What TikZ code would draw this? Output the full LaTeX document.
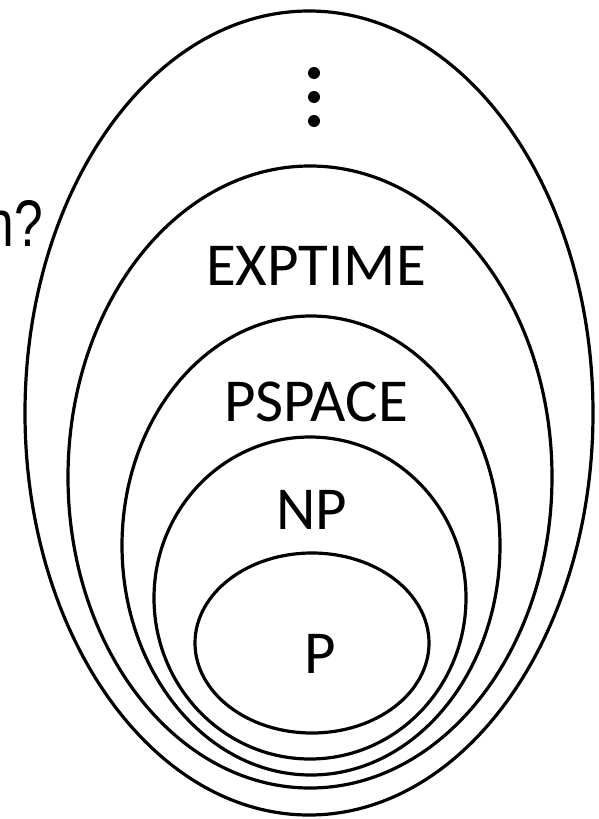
\documentclass[tikz,border=0pt]{standalone}
\usepackage{fontspec}
\setmainfont{Carlito}
\newfontfamily\arialfont{Liberation Sans}
\usetikzlibrary{shapes.geometric}
\tikzset{
  classset/.style={ellipse, draw=black, line width=3.2pt, inner sep=0pt},
  classlabel/.style={anchor=base, inner sep=0pt, font=\fontsize{61}{61}\selectfont},
  dotmark/.style={circle, fill=black, inner sep=0pt, minimum size=12pt}
}
\begin{document}
\begin{tikzpicture}[x=1pt,y=-1pt]
\useasboundingbox (0,0) rectangle (599,819);
\clip (0,0) rectangle (599,819);
\node[classset, minimum width=568pt, minimum height=804pt] (outer) at (309,413) {};
\node[classset, minimum width=484pt, minimum height=622pt] (exp) at (310,477) {};
\node[classset, minimum width=378pt, minimum height=459pt] (pspace) at (311,545.5) {};
\node[classset, minimum width=312pt, minimum height=322pt] (np) at (310,598) {};
\node[classset, minimum width=234pt, minimum height=180pt] (p) at (312,643) {};
\node[classlabel] (lexp) at (316,285) {EXPTIME};
\node[classlabel] (lpspace) at (316,421) {PSPACE};
\node[classlabel] (lnp) at (311.5,529) {NP};
\node[classlabel] (lp) at (320,673) {P};
\node[dotmark] (d1) at (314,73) {};
\node[dotmark] (d2) at (314,97) {};
\node[dotmark] (d3) at (314,121) {};
\node[anchor=base east, inner sep=0pt, font=\arialfont\fontsize{66}{66}\selectfont] (q) at (43,246) {\scalebox{0.78}[1]{n?}};
\end{tikzpicture}
\end{document}
